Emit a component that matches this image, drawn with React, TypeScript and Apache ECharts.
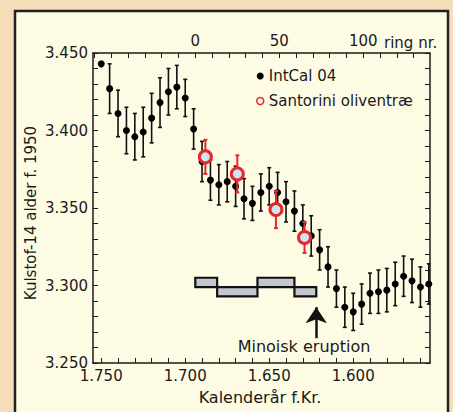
import { useEffect, useRef } from 'react';
import * as echarts from 'echarts';

// IntCal 04 calibration points (calendar year BC, 14C age BP, 1-sigma)
const YEARS = [
  1750, 1745, 1740, 1735, 1730, 1725, 1720, 1715, 1710, 1705,
  1700, 1695, 1690, 1685, 1680, 1675, 1670, 1665, 1660, 1655,
  1650, 1645, 1640, 1635, 1630, 1625, 1620, 1615, 1610, 1605,
  1600, 1595, 1590, 1585, 1580, 1575, 1570, 1565, 1560, 1555,
];
const INTCAL_BP = [
  3443, 3427, 3411, 3400, 3396, 3399, 3408, 3418, 3425, 3428,
  3421, 3401, 3380, 3368, 3365, 3367, 3364, 3356, 3353, 3360,
  3364, 3360, 3354, 3348, 3340, 3332, 3323, 3312, 3298, 3286,
  3283, 3288, 3295, 3296, 3297, 3301, 3306, 3303, 3299, 3301,
];
const INTCAL_ERR = [
  0, 16, 15, 15, 15, 16, 16, 16, 15, 14,
  12, 13, 13, 13, 13, 13, 13, 13, 11, 12,
  12, 13, 13, 13, 12, 13, 13, 13, 12, 13,
  12, 13, 13, 14, 14, 14, 13, 14, 13, 13,
];

// Santorini olive tree wiggle-match segments
const SANTORINI_YEARS = [1688, 1669, 1646, 1629];
const SANTORINI_BP = [3383, 3372, 3349, 3331];
const SANTORINI_ERR = [11, 12, 12, 10];

// Ring segments (grey boxes)
const BOX_START = [1694, 1681, 1657, 1635];
const BOX_END = [1681, 1657, 1635, 1622];
const BOX_LOW = [3299, 3293, 3299, 3293];
const BOX_HIGH = [3305, 3299, 3305, 3299];

const ERUPTION_YEAR = 1622;
const ARROW_BP = [3266, 3286];
const RING0_YEAR = 1694;

const X_LEFT = 1754.9;
const X_RIGHT = 1554.3;
const X_LABELS = [1750, 1700, 1650, 1600];
const X_TICKS = [1750, 1740, 1730, 1720, 1710, 1700, 1690, 1680, 1670, 1660, 1650, 1640, 1630, 1620, 1610, 1600, 1590, 1580, 1570, 1560];
const RING_LABELS = [0, 50, 100];
const RING_TICKS = [-60, -50, -40, -30, -20, -10, 0, 10, 20, 30, 40, 50, 60, 70, 80, 90, 100, 110, 120, 130];
const Y_MIN = 3250;
const Y_MAX = 3450;
const Y_STEP = 50;

const FONT = '"DejaVu Sans", sans-serif';
const INK = '#1a1a1a';
const RED = '#e8262d';

const thousands = (v: number) => String(Math.round(v)).replace(/\B(?=(\d{3})+(?!\d))/g, '.');

const errRender = (color: string, lw: number, cap: number) => (_p: any, api: any) => {
  const x = api.value(0);
  const y = api.value(1);
  const e = api.value(2);
  const a = api.coord([x, y + e]);
  const b = api.coord([x, y - e]);
  const style = { stroke: color, lineWidth: lw };
  return {
    type: 'group',
    children: [
      { type: 'line', shape: { x1: a[0], y1: a[1], x2: b[0], y2: b[1] }, style },
      { type: 'line', shape: { x1: a[0] - cap, y1: a[1], x2: a[0] + cap, y2: a[1] }, style },
      { type: 'line', shape: { x1: b[0] - cap, y1: b[1], x2: b[0] + cap, y2: b[1] }, style },
    ],
  };
};

export default function App() {
  const ref = useRef<HTMLDivElement>(null);
  useEffect(() => {
    const chart = echarts.init(ref.current!, null, { renderer: 'svg' });
    const intcal = YEARS.map((y, i) => [y, INTCAL_BP[i]]);
    const intcalErr = YEARS.map((y, i) => [y, INTCAL_BP[i], INTCAL_ERR[i]]).filter((d) => d[2] > 0);
    const santo = SANTORINI_YEARS.map((y, i) => [y, SANTORINI_BP[i]]);
    const santoErr = SANTORINI_YEARS.map((y, i) => [y, SANTORINI_BP[i], SANTORINI_ERR[i]]);
    const boxes = BOX_START.map((s, i) => [s, BOX_END[i], BOX_LOW[i], BOX_HIGH[i]]);

    const tickStyle = { show: true, inside: true, length: 5, lineStyle: { color: INK, width: 1 } };
    const lineStyle = { show: true, onZero: false, lineStyle: { color: INK, width: 1.5 } };

    chart.setOption({
      animation: false,
      backgroundColor: '#f6ddb8',
      textStyle: { fontFamily: FONT },
      graphic: [
        {
          type: 'rect',
          z: -100,
          silent: true,
          shape: { x: 15, y: 11, width: 433, height: 430 },
          style: { fill: '#fefbe4', stroke: '#222', lineWidth: 2.5 },
        },
        {
          type: 'text',
          x: 31,
          y: 213,
          rotation: Math.PI / 2,
          silent: true,
          style: { text: 'Kulstof-14 alder f. 1950', font: `15px ${FONT}`, fill: INK, align: 'center', verticalAlign: 'middle' },
        },
        {
          type: 'text',
          x: 260,
          y: 397,
          silent: true,
          style: { text: 'Kalenderår f.Kr.', font: `16px ${FONT}`, fill: INK, align: 'center', verticalAlign: 'middle' },
        },
        {
          type: 'text',
          x: 384,
          y: 43,
          silent: true,
          style: { text: 'ring nr.', font: `15px ${FONT}`, fill: INK, align: 'left', verticalAlign: 'middle' },
        },
        {
          type: 'text',
          x: 304,
          y: 346,
          silent: true,
          style: { text: 'Minoisk eruption', font: `16px ${FONT}`, fill: INK, align: 'center', verticalAlign: 'middle' },
        },
      ],
      grid: { left: 93, right: 23, top: 53, bottom: 49 },
      legend: {
        orient: 'vertical',
        left: 251,
        top: 63,
        itemWidth: 7,
        itemHeight: 7,
        itemGap: 9,
        selectedMode: false,
        textStyle: { fontSize: 15, fontFamily: FONT, color: INK, lineHeight: 16 },
        data: [
          { name: 'IntCal 04', icon: 'circle', itemStyle: { color: '#000', opacity: 1 } },
          { name: 'Santorini oliventræ', icon: 'circle', itemStyle: { color: '#fefbe4', borderColor: RED, borderWidth: 1.5, opacity: 1 } },
        ],
      },
      xAxis: [
        {
          type: 'value',
          position: 'bottom',
          inverse: true,
          min: X_RIGHT,
          max: X_LEFT,
          axisLine: lineStyle,
          axisTick: { ...tickStyle, customValues: X_TICKS },
          axisLabel: { customValues: X_LABELS, formatter: thousands, color: INK, fontSize: 15, margin: 5 },
          splitLine: { show: false },
        },
        {
          type: 'value',
          position: 'top',
          min: RING0_YEAR - X_LEFT,
          max: RING0_YEAR - X_RIGHT,
          axisLine: lineStyle,
          axisTick: { ...tickStyle, customValues: RING_TICKS },
          axisLabel: { customValues: RING_LABELS, color: INK, fontSize: 15, margin: 5 },
          splitLine: { show: false },
        },
      ],
      yAxis: [
        {
          type: 'value',
          position: 'left',
          min: Y_MIN,
          max: Y_MAX,
          interval: Y_STEP,
          axisLine: lineStyle,
          axisTick: tickStyle,
          minorTick: { show: true, splitNumber: 5, length: 5, lineStyle: { color: INK, width: 1 } },
          axisLabel: { formatter: thousands, color: INK, fontSize: 15, margin: 5 },
          splitLine: { show: false },
          minorSplitLine: { show: false },
        },
        {
          type: 'value',
          position: 'right',
          min: Y_MIN,
          max: Y_MAX,
          interval: Y_STEP,
          axisLine: lineStyle,
          axisTick: tickStyle,
          minorTick: { show: true, splitNumber: 5, length: 5, lineStyle: { color: INK, width: 1 } },
          axisLabel: { show: false },
          splitLine: { show: false },
        },
      ],
      series: [
        {
          type: 'custom',
          name: 'segments',
          xAxisIndex: 0,
          yAxisIndex: 0,
          z: 1,
          silent: true,
          data: boxes,
          encode: { x: [0, 1], y: [2, 3] },
          renderItem: (_p: any, api: any) => {
            const p1 = api.coord([api.value(0), api.value(3)]);
            const p2 = api.coord([api.value(1), api.value(2)]);
            return {
              type: 'rect',
              shape: { x: Math.min(p1[0], p2[0]), y: Math.min(p1[1], p2[1]), width: Math.abs(p2[0] - p1[0]), height: Math.abs(p2[1] - p1[1]) },
              style: { fill: '#c4c8ce', stroke: '#111', lineWidth: 2.2 },
            };
          },
        },
        {
          type: 'custom',
          name: 'IntCal err',
          xAxisIndex: 0,
          yAxisIndex: 0,
          z: 2,
          silent: true,
          data: intcalErr,
          encode: { x: 0, y: 1 },
          renderItem: errRender('#111', 1.6, 2),
        },
        {
          type: 'scatter',
          name: 'IntCal 04',
          xAxisIndex: 0,
          yAxisIndex: 0,
          z: 3,
          symbol: 'circle',
          symbolSize: 7,
          itemStyle: { color: '#000', opacity: 1 },
          data: intcal,
          markLine: {
            silent: true,
            symbol: ['none', 'arrow'],
            symbolSize: 16,
            label: { show: false },
            lineStyle: { color: '#111', width: 2.5, type: 'solid', opacity: 1 },
            data: [[{ coord: [ERUPTION_YEAR, ARROW_BP[0]] }, { coord: [ERUPTION_YEAR, ARROW_BP[1]] }]],
          },
        },
        {
          type: 'custom',
          name: 'Santorini err',
          xAxisIndex: 0,
          yAxisIndex: 0,
          z: 4,
          silent: true,
          data: santoErr,
          encode: { x: 0, y: 1 },
          renderItem: errRender(RED, 2, 2),
        },
        {
          type: 'scatter',
          name: 'Santorini oliventræ',
          xAxisIndex: 0,
          yAxisIndex: 0,
          z: 5,
          symbol: 'circle',
          symbolSize: 12,
          itemStyle: { color: '#cfe7f1', borderColor: RED, borderWidth: 3, opacity: 1 },
          data: santo,
        },
      ],
    });
    return () => chart.dispose();
  }, []);
  return <div ref={ref} style={{ position: 'fixed', left: 0, top: 0, width: 453, height: 412 }} />;
}
